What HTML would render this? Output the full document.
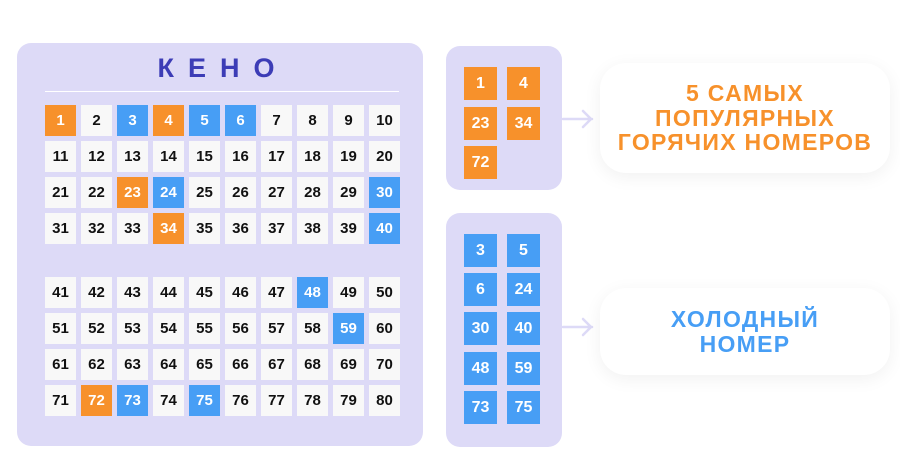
<!DOCTYPE html>
<html><head><meta charset="utf-8"><style>
*{margin:0;padding:0;box-sizing:border-box}
body{width:900px;height:470px;background:#fff;position:relative;overflow:hidden;font-family:"Liberation Sans","DejaVu Sans",sans-serif;font-weight:bold}
.panel{position:absolute;background:#dddaf7;border-radius:14px}
.grid{position:absolute;display:grid;grid-template-columns:repeat(10,31px);grid-auto-rows:31px;column-gap:5px;row-gap:5px}
.grid div{background:#f8f8f8;color:#111;font-size:15px;display:flex;align-items:center;justify-content:center}
.o{background:#f7912b!important;color:#fff!important}
.b{background:#479ef5!important;color:#fff!important}
.c{position:absolute;width:33px;height:33px;display:flex;align-items:center;justify-content:center;color:#fff;font-size:16px}
.lbl{position:absolute;background:#fff;border-radius:26px;box-shadow:0 4px 18px rgba(0,0,0,0.06);display:flex;align-items:center;justify-content:center;text-align:center;font-size:23px;line-height:24.5px;letter-spacing:1.3px}
</style></head><body>
<div class="panel" style="left:17px;top:43px;width:406px;height:403px"></div>
<div style="position:absolute;left:13px;top:53px;width:406px;text-align:center;color:#3c3cb6;font-size:27px;letter-spacing:14px;padding-left:14px">КЕНО</div>
<div style="position:absolute;left:45px;top:91px;width:354px;height:1px;background:#fff"></div>
<div class="grid" style="left:45px;top:105px">
<div class="o">1</div><div>2</div><div class="b">3</div><div class="o">4</div><div class="b">5</div><div class="b">6</div><div>7</div><div>8</div><div>9</div><div>10</div>
<div>11</div><div>12</div><div>13</div><div>14</div><div>15</div><div>16</div><div>17</div><div>18</div><div>19</div><div>20</div>
<div>21</div><div>22</div><div class="o">23</div><div class="b">24</div><div>25</div><div>26</div><div>27</div><div>28</div><div>29</div><div class="b">30</div>
<div>31</div><div>32</div><div>33</div><div class="o">34</div><div>35</div><div>36</div><div>37</div><div>38</div><div>39</div><div class="b">40</div>
</div>
<div class="grid" style="left:45px;top:277px">
<div>41</div><div>42</div><div>43</div><div>44</div><div>45</div><div>46</div><div>47</div><div class="b">48</div><div>49</div><div>50</div>
<div>51</div><div>52</div><div>53</div><div>54</div><div>55</div><div>56</div><div>57</div><div>58</div><div class="b">59</div><div>60</div>
<div>61</div><div>62</div><div>63</div><div>64</div><div>65</div><div>66</div><div>67</div><div>68</div><div>69</div><div>70</div>
<div>71</div><div class="o">72</div><div class="b">73</div><div>74</div><div class="b">75</div><div>76</div><div>77</div><div>78</div><div>79</div><div>80</div>
</div>

<div class="panel" style="left:446px;top:46px;width:116px;height:144px"></div>
<div class="c o" style="left:464px;top:67px">1</div><div class="c o" style="left:507px;top:67px">4</div>
<div class="c o" style="left:464px;top:107px">23</div><div class="c o" style="left:507px;top:107px">34</div>
<div class="c o" style="left:464px;top:146px">72</div>

<div class="panel" style="left:446px;top:213px;width:116px;height:234px"></div>
<div class="c b" style="left:464px;top:234px">3</div><div class="c b" style="left:507px;top:234px">5</div>
<div class="c b" style="left:464px;top:273px">6</div><div class="c b" style="left:507px;top:273px">24</div>
<div class="c b" style="left:464px;top:312px">30</div><div class="c b" style="left:507px;top:312px">40</div>
<div class="c b" style="left:464px;top:352px">48</div><div class="c b" style="left:507px;top:352px">59</div>
<div class="c b" style="left:464px;top:391px">73</div><div class="c b" style="left:507px;top:391px">75</div>

<svg style="position:absolute;left:560px;top:105px" width="36" height="240">
<g fill="none" stroke="#dddaf7" stroke-width="2.5" stroke-linecap="round" stroke-linejoin="round">
<path d="M3 14H32M23 6L31 14L23 22"/>
<path d="M3 222H32M23 214L31 222L23 230"/>
</g></svg>

<div class="lbl" style="left:600px;top:63px;width:290px;height:110px;color:#f7912b">5 САМЫХ<br>ПОПУЛЯРНЫХ<br>ГОРЯЧИХ НОМЕРОВ</div>
<div class="lbl" style="left:600px;top:288px;width:290px;height:87px;color:#479ef5">ХОЛОДНЫЙ<br>НОМЕР</div>
</body></html>
